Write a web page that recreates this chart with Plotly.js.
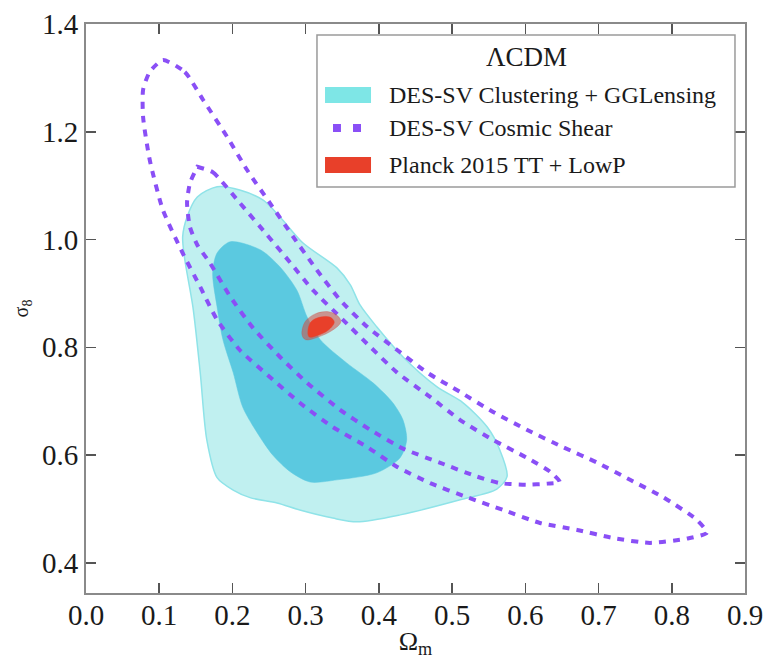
<!DOCTYPE html>
<html>
<head>
<meta charset="utf-8">
<script src="https://cdn.plot.ly/plotly-3.0.1.min.js"></script>
<style>html,body{margin:0;padding:0;background:#fff;}#chart{width:769px;height:659px;}</style>
</head>
<body>
<div id="chart"></div>
<script>
// ---- Data (Omega_m, sigma_8) ----
// DES-SV Clustering + GGLensing, 95% contour
const clus95X = [0.179,0.210,0.242,0.265,0.296,0.343,0.361,0.374,0.397,0.433,0.479,0.515,0.548,0.565,0.575,0.561,0.511,0.429,0.370,0.337,0.292,0.261,0.224,0.201,0.179,0.165,0.156,0.146,0.135,0.132,0.138,0.152];
const clus95Y = [1.098,1.092,1.073,1.042,0.994,0.947,0.916,0.879,0.838,0.782,0.727,0.697,0.652,0.610,0.560,0.537,0.517,0.489,0.476,0.483,0.498,0.511,0.521,0.535,0.558,0.628,0.753,0.875,0.962,1.005,1.042,1.079];
// DES-SV Clustering + GGLensing, 68% contour
const clus68X = [0.197,0.238,0.265,0.288,0.302,0.320,0.356,0.392,0.419,0.433,0.438,0.429,0.397,0.343,0.306,0.279,0.255,0.234,0.214,0.201,0.187,0.179,0.173,0.179];
const clus68Y = [0.996,0.981,0.949,0.906,0.856,0.814,0.771,0.734,0.697,0.665,0.628,0.595,0.567,0.554,0.550,0.569,0.600,0.641,0.689,0.753,0.814,0.875,0.938,0.975];
// DES-SV Cosmic Shear, 95% contour
const shear95X = [0.105,0.135,0.160,0.193,0.220,0.251,0.283,0.315,0.347,0.384,0.425,0.466,0.511,0.556,0.602,0.651,0.698,0.743,0.788,0.834,0.848,0.821,0.770,0.720,0.671,0.620,0.570,0.520,0.470,0.425,0.384,0.337,0.292,0.251,0.210,0.179,0.156,0.132,0.105,0.087,0.078,0.078,0.087,0.105];
const shear95Y = [1.333,1.311,1.259,1.190,1.129,1.068,1.005,0.944,0.888,0.838,0.795,0.753,0.717,0.680,0.647,0.615,0.586,0.554,0.522,0.480,0.456,0.445,0.437,0.446,0.461,0.474,0.498,0.522,0.548,0.578,0.615,0.652,0.697,0.745,0.795,0.851,0.912,0.975,1.055,1.148,1.227,1.278,1.311,1.333];
// DES-SV Cosmic Shear, 68% contour
const shear68X = [0.152,0.173,0.210,0.247,0.279,0.310,0.351,0.388,0.425,0.470,0.511,0.556,0.602,0.634,0.647,0.630,0.602,0.565,0.534,0.483,0.433,0.388,0.347,0.302,0.265,0.228,0.197,0.169,0.152,0.142,0.138,0.142,0.152];
const shear68Y = [1.135,1.125,1.068,1.009,0.957,0.906,0.851,0.801,0.753,0.708,0.665,0.628,0.595,0.569,0.550,0.547,0.545,0.548,0.560,0.586,0.612,0.647,0.684,0.734,0.782,0.836,0.894,0.957,0.990,1.023,1.068,1.105,1.135];
// Planck 2015 TT + LowP, 95% and 68% contours
const planck95X = [0.295,0.299,0.313,0.331,0.344,0.348,0.337,0.317,0.300];
const planck95Y = [0.823,0.847,0.862,0.866,0.858,0.847,0.832,0.819,0.814];
const planck68X = [0.303,0.307,0.320,0.333,0.339,0.331,0.314,0.305];
const planck68Y = [0.827,0.847,0.856,0.856,0.847,0.832,0.821,0.819];

const legendTitle = "\u039BCDM";
const legendLabels = ["DES-SV Clustering + GGLensing", "DES-SV Cosmic Shear", "Planck 2015 TT + LowP"];
const xTicks = [0.0,0.1,0.2,0.3,0.4,0.5,0.6,0.7,0.8,0.9];
const yTicks = [0.4,0.6,0.8,1.0,1.2,1.4];

// ---- Styling ----
const CYAN_OUT = "#c0f0f0", CYAN_EDGE = "#8fe3e8", CYAN_IN = "#5bc9e0", CYAN_LEG = "#7ee6e6";
const PURPLE = "#8a4ff6", RED = "#e8402a";
const FONT = "Liberation Serif, Times New Roman, serif";

function closed(a){ return a.concat([a[0]]); }

const traces = [
  {x: closed(clus95X), y: closed(clus95Y), mode: "lines", fill: "toself", fillcolor: CYAN_OUT,
   line: {color: CYAN_EDGE, width: 1.5, shape: "spline", smoothing: 0.8}, hoverinfo: "skip", showlegend: false},
  {x: closed(clus68X), y: closed(clus68Y), mode: "lines", fill: "toself", fillcolor: CYAN_IN,
   line: {color: CYAN_IN, width: 0.5, shape: "spline", smoothing: 0.8}, hoverinfo: "skip", showlegend: false},
  {x: shear95X, y: shear95Y, mode: "lines",
   line: {color: PURPLE, width: 4, dash: "7px,7px", shape: "spline", smoothing: 0.6}, hoverinfo: "skip", showlegend: false},
  {x: closed(shear68X), y: closed(shear68Y), mode: "lines",
   line: {color: PURPLE, width: 4, dash: "7px,7px", shape: "spline", smoothing: 0.6}, hoverinfo: "skip", showlegend: false},
  {x: closed(planck95X), y: closed(planck95Y), mode: "lines", fill: "toself", fillcolor: "rgba(205,75,65,0.55)",
   line: {color: "rgba(205,75,65,0.3)", width: 1, shape: "spline", smoothing: 1}, hoverinfo: "skip", showlegend: false},
  {x: closed(planck68X), y: closed(planck68Y), mode: "lines", fill: "toself", fillcolor: RED,
   line: {color: RED, width: 0.5, shape: "spline", smoothing: 1}, hoverinfo: "skip", showlegend: false}
];

// ---- Manual legend (paper coordinates) ----
const shapes = [
  {type: "rect", xref: "paper", yref: "paper", x0: 0.3505, x1: 0.9848, y0: 0.7135, y1: 0.9807,
   line: {color: "#9a9a9a", width: 1.5}, fillcolor: "rgba(255,255,255,0.9)", layer: "above"},
  {type: "rect", xref: "paper", yref: "paper", x0: 0.3627, x1: 0.4325, y0: 0.8612, y1: 0.8893,
   line: {width: 0}, fillcolor: CYAN_LEG, layer: "above"},
  {type: "rect", xref: "paper", yref: "paper", x0: 0.3748, x1: 0.3869, y0: 0.8102, y1: 0.8243,
   line: {width: 0}, fillcolor: PURPLE, layer: "above"},
  {type: "rect", xref: "paper", yref: "paper", x0: 0.4052, x1: 0.4173, y0: 0.8102, y1: 0.8243,
   line: {width: 0}, fillcolor: PURPLE, layer: "above"},
  {type: "rect", xref: "paper", yref: "paper", x0: 0.3627, x1: 0.4325, y0: 0.7381, y1: 0.7663,
   line: {width: 0}, fillcolor: RED, layer: "above"}
];
const rowY = [0.8752, 0.8172, 0.7522];
const annotations = [
  {xref: "paper", yref: "paper", x: 0.6677, y: 0.942, text: legendTitle, showarrow: false,
   xanchor: "center", yanchor: "middle", font: {family: FONT, size: 27, color: "#1a1a1a"}}
].concat(legendLabels.map((t, i) => ({
  xref: "paper", yref: "paper", x: 0.4568, y: rowY[i], text: t, showarrow: false,
  xanchor: "left", yanchor: "middle", font: {family: FONT, size: 24, color: "#1a1a1a"}
})));

const axisCommon = {
  showgrid: false, zeroline: false, showline: true, linecolor: "#8a8a8a", linewidth: 2,
  mirror: "ticks", ticks: "inside", ticklen: 10, tickwidth: 1.5, tickcolor: "#555",
  tickfont: {family: FONT, size: 29, color: "#1a1a1a"}
};

const layout = {
  width: 769, height: 659,
  margin: {l: 86, r: 24, t: 24, b: 66},
  paper_bgcolor: "#fff", plot_bgcolor: "#fff",
  showlegend: false,
  xaxis: Object.assign({}, axisCommon, {
    range: [0, 0.9], tickvals: xTicks, ticktext: xTicks.map(v => v.toFixed(1)),
    ticklabelstandoff: -5,
    title: {text: "\u03A9<sub>m</sub>", font: {family: FONT, size: 26, color: "#1a1a1a"}, standoff: 4}
  }),
  yaxis: Object.assign({}, axisCommon, {
    range: [0.344, 1.4], tickvals: yTicks, ticktext: yTicks.map(v => v.toFixed(1)),
    title: {text: "\u03C3<sub>8</sub>", font: {family: FONT, size: 20, color: "#1a1a1a"}, standoff: 8}
  }),
  shapes: shapes,
  annotations: annotations
};

Plotly.newPlot("chart", traces, layout, {displayModeBar: false, staticPlot: true});
</script>
</body>
</html>
